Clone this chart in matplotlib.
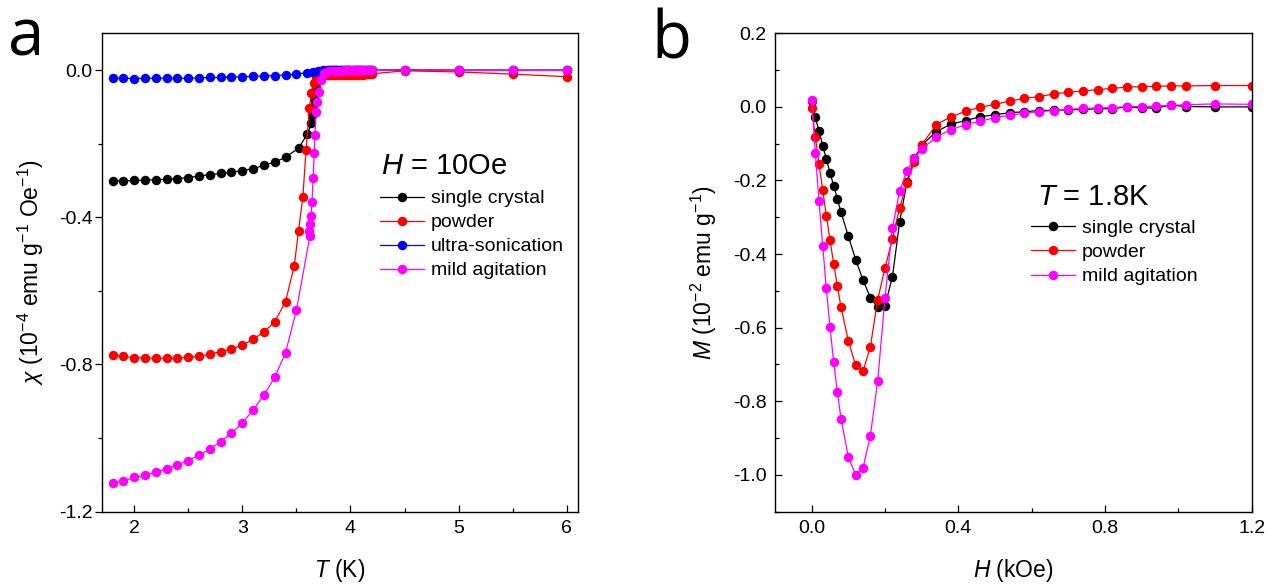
import matplotlib
matplotlib.use("Agg")
import matplotlib.pyplot as plt
from matplotlib.ticker import FormatStrFormatter, MultipleLocator
from matplotlib.lines import Line2D

plt.rcParams['font.family'] = ['Liberation Sans', 'DejaVu Sans']
plt.rcParams['mathtext.fontset'] = 'custom'
plt.rcParams['mathtext.rm'] = 'Liberation Sans'
plt.rcParams['mathtext.it'] = 'Liberation Sans:italic'
plt.rcParams['mathtext.bf'] = 'Liberation Sans:bold'
plt.rcParams['axes.unicode_minus'] = False

# ---------------- Panel a data: chi vs T (H = 10 Oe) ----------------
T_single = [1.8, 1.9, 2.0, 2.1, 2.2, 2.3, 2.4, 2.5, 2.6, 2.7, 2.8, 2.9, 3.0, 3.1, 3.2, 3.3, 3.4, 3.52,
            3.6, 3.64, 3.648, 3.655, 3.67, 3.68, 3.70, 3.72, 3.75, 3.78,
            3.80, 3.82, 3.84, 3.86, 3.88, 3.90, 3.92, 3.94, 3.96, 3.98, 4.00, 4.02, 4.04, 4.06, 4.08,
            4.10, 4.12, 4.14, 4.16, 4.18, 4.20, 4.5, 5.0, 5.5, 6.0]
chi_single = [-0.302, -0.301, -0.300, -0.299, -0.298, -0.297, -0.295, -0.292, -0.288, -0.284, -0.281,
              -0.278, -0.273, -0.268, -0.259, -0.250, -0.237, -0.212,
              -0.175, -0.145, -0.122, -0.100, -0.082, -0.045, -0.020, -0.008, -0.004, -0.002,
              -0.001, -0.001, -0.001, -0.001, -0.001, -0.001, -0.001, -0.001, -0.001, -0.001, -0.001,
              -0.001, -0.001, -0.001, -0.001, -0.001, -0.001, -0.001, -0.001, -0.001, -0.001,
              0.000, -0.001, -0.001, -0.001]

T_powder = [1.8, 1.9, 2.0, 2.1, 2.2, 2.3, 2.4, 2.5, 2.6, 2.7, 2.8, 2.9, 3.0, 3.1, 3.2, 3.3, 3.4,
            3.48, 3.52, 3.56, 3.59, 3.62, 3.64, 3.66, 3.68, 3.70, 3.72, 3.75, 3.78,
            3.80, 3.82, 3.84, 3.86, 3.88, 3.90, 3.92, 3.94, 3.96, 3.98, 4.00, 4.02, 4.04, 4.06, 4.08,
            4.10, 4.12, 4.14, 4.16, 4.18, 4.20, 4.5, 5.0, 5.5, 6.0]
chi_powder = [-0.775, -0.778, -0.782, -0.782, -0.783, -0.783, -0.783, -0.780, -0.777, -0.772, -0.765,
              -0.758, -0.748, -0.731, -0.712, -0.684, -0.629,
              -0.533, -0.437, -0.344, -0.217, -0.103, -0.061, -0.035, -0.020, -0.015, -0.014, -0.014, -0.014,
              -0.014, -0.014, -0.014, -0.014, -0.014, -0.014, -0.014, -0.014, -0.014, -0.013, -0.013,
              -0.013, -0.013, -0.013, -0.012, -0.012, -0.012, -0.011, -0.011, -0.011, -0.010,
              -0.002, -0.005, -0.011, -0.018]

T_sonic = [1.8, 1.9, 2.0, 2.1, 2.2, 2.3, 2.4, 2.5, 2.6, 2.7, 2.8, 2.9, 3.0, 3.1, 3.2, 3.3, 3.4,
           3.5, 3.6, 3.65, 3.7, 3.75, 3.78,
           3.80, 3.82, 3.84, 3.86, 3.88, 3.90, 3.92, 3.94, 3.96, 3.98, 4.00, 4.02, 4.04, 4.06, 4.08,
           4.10, 4.12, 4.14, 4.16, 4.18, 4.20, 4.5, 5.0, 5.5, 6.0]
chi_sonic = [-0.022, -0.022, -0.023, -0.022, -0.022, -0.022, -0.022, -0.022, -0.021, -0.020, -0.020,
             -0.019, -0.018, -0.017, -0.016, -0.015, -0.013,
             -0.011, -0.007, -0.005, -0.002, 0.000, 0.000,
             0.000, 0.000, 0.000, 0.000, 0.000, 0.000, 0.000, 0.000, 0.000, 0.000, 0.000, 0.000,
             0.000, 0.000, 0.000, 0.000, 0.000, 0.000, 0.000, 0.000, 0.000, 0.000, 0.000, 0.000, 0.000]

T_mild = [1.8, 1.9, 2.0, 2.1, 2.2, 2.3, 2.4, 2.5, 2.6, 2.7, 2.8, 2.9, 3.0, 3.1, 3.2, 3.3, 3.4, 3.5,
          3.626, 3.62, 3.63, 3.635, 3.645, 3.655, 3.665, 3.67, 3.685, 3.695, 3.71, 3.73, 3.76, 3.78,
          3.80, 3.82, 3.84, 3.86, 3.88, 3.90, 3.92, 3.94, 3.96, 3.98, 4.00, 4.02, 4.04, 4.06, 4.08,
          4.10, 4.12, 4.14, 4.16, 4.18, 4.20, 4.5, 5.0, 5.5, 6.0]
chi_mild = [-1.122, -1.117, -1.107, -1.101, -1.093, -1.083, -1.073, -1.061, -1.046, -1.030, -1.010,
            -0.986, -0.959, -0.924, -0.883, -0.835, -0.768, -0.653,
            -0.450, -0.437, -0.418, -0.397, -0.358, -0.294, -0.224, -0.177, -0.113, -0.086, -0.059,
            -0.027, -0.009, -0.004,
            -0.002, -0.002, -0.002, -0.002, -0.002, -0.002, -0.002, -0.001, -0.001, -0.001, -0.001,
            -0.001, -0.001, -0.001, -0.001, -0.001, -0.001, -0.001, -0.001, -0.001, -0.001,
            0.000, -0.001, -0.001, -0.001]

# ---------------- Panel b data: M vs H (T = 1.8 K) ----------------
H_field = [0.00, 0.01, 0.02, 0.03, 0.04, 0.05, 0.06, 0.07, 0.08, 0.10, 0.12, 0.14, 0.16, 0.18, 0.20,
           0.22, 0.24, 0.26, 0.28, 0.30, 0.34, 0.38, 0.42, 0.46, 0.50, 0.54, 0.58, 0.62, 0.66, 0.70,
           0.74, 0.78, 0.82, 0.86, 0.90, 0.94, 0.98, 1.02, 1.10, 1.20]
M_single = [0.015, -0.028, -0.066, -0.105, -0.142, -0.179, -0.214, -0.250, -0.286, -0.352, -0.415,
            -0.471, -0.518, -0.545, -0.540, -0.463, -0.312, -0.203, -0.140, -0.104, -0.067, -0.047,
            -0.037, -0.027, -0.021, -0.016, -0.013, -0.010, -0.009, -0.008, -0.007, -0.005, -0.005,
            0.000, -0.003, -0.003, 0.005, 0.001, 0.000, 0.000]
M_powder = [-0.003, -0.081, -0.156, -0.225, -0.296, -0.362, -0.426, -0.487, -0.544, -0.636, -0.702,
            -0.718, -0.652, -0.524, -0.438, -0.359, -0.274, -0.206, -0.150, -0.103, -0.048, -0.027,
            -0.012, -0.001, 0.007, 0.016, 0.023, 0.028, 0.035, 0.040, 0.043, 0.047, 0.050, 0.054,
            0.055, 0.056, 0.057, 0.057, 0.058, 0.058]
M_mild = [0.019, -0.125, -0.257, -0.377, -0.493, -0.599, -0.693, -0.776, -0.847, -0.952, -1.000,
          -0.981, -0.894, -0.745, -0.518, -0.330, -0.228, -0.173, -0.138, -0.115, -0.082, -0.062,
          -0.048, -0.039, -0.029, -0.023, -0.017, -0.013, -0.010, -0.007, -0.004, -0.003, -0.002,
          0.001, 0.001, 0.002, 0.004, 0.006, 0.008, 0.007]

labels_a = ["single crystal", "powder", "ultra-sonication", "mild agitation"]
labels_b = ["single crystal", "powder", "mild agitation"]
colors_a = ["#000000", "#ff0000", "#0000ff", "#ff00ff"]
colors_b = ["#000000", "#ff0000", "#ff00ff"]

fig = plt.figure(figsize=(12.84, 5.86), dpi=100)
ax_a = fig.add_axes([0.0792, 0.1268, 0.3706, 0.8164])
ax_b = fig.add_axes([0.6036, 0.1268, 0.3712, 0.8164])

ms = 5.8
lw = 0.9

series_a = [(T_single, chi_single), (T_powder, chi_powder), (T_sonic, chi_sonic), (T_mild, chi_mild)]
for (x, y), c in zip(series_a, colors_a):
    ax_a.plot(x, y, '-o', color=c, ms=ms, lw=lw, mec=c, mfc=c)

series_b = [(H_field, M_single), (H_field, M_powder), (H_field, M_mild)]
for (x, y), c in zip(series_b, colors_b):
    ax_b.plot(x, y, '-o', color=c, ms=ms, lw=lw, mec=c, mfc=c)

# axes a
ax_a.set_xlim(1.7, 6.1)
ax_a.set_ylim(-1.2, 0.1)
ax_a.set_xticks([2, 3, 4, 5, 6])
ax_a.set_yticks([-1.2, -0.8, -0.4, 0.0])
ax_a.xaxis.set_minor_locator(MultipleLocator(0.5))
ax_a.yaxis.set_minor_locator(MultipleLocator(0.2))
ax_a.yaxis.set_major_formatter(FormatStrFormatter('%.1f'))

# axes b
ax_b.set_xlim(-0.1, 1.2)
ax_b.set_ylim(-1.1, 0.2)
ax_b.set_xticks([0.0, 0.4, 0.8, 1.2])
ax_b.set_yticks([-1.0, -0.8, -0.6, -0.4, -0.2, 0.0, 0.2])
ax_b.xaxis.set_minor_locator(MultipleLocator(0.2))
ax_b.yaxis.set_minor_locator(MultipleLocator(0.1))
ax_b.xaxis.set_major_formatter(FormatStrFormatter('%.1f'))
ax_b.yaxis.set_major_formatter(FormatStrFormatter('%.1f'))

for ax in (ax_a, ax_b):
    for s in ax.spines.values():
        s.set_linewidth(1.0)
    ax.tick_params(axis='both', which='major', labelsize=14, length=5, width=0.9)
    ax.tick_params(axis='both', which='minor', length=2.6, width=0.9)
    ax.tick_params(axis='x', which='both', direction='in', pad=6)
    ax.tick_params(top=False, right=False)

ax_a.tick_params(axis='y', which='both', direction='out', pad=1.5)
ax_b.tick_params(axis='y', which='both', direction='in', pad=6)

lab_fs = 16.5
ax_a.set_xlabel(r'$T$ (K)', fontsize=lab_fs)
ax_a.set_ylabel(r'$\chi$ (10$^{-4}$ emu g$^{-1}$ Oe$^{-1}$)', fontsize=lab_fs)
ax_b.set_xlabel(r'$H$ (kOe)', fontsize=lab_fs)
ax_b.set_ylabel(r'$M$ (10$^{-2}$ emu g$^{-1}$)', fontsize=lab_fs)
ax_a.xaxis.set_label_coords(0.5, -0.094)
ax_b.xaxis.set_label_coords(0.5, -0.094)
ax_a.yaxis.set_label_coords(-0.118, 0.5)
ax_b.yaxis.set_label_coords(-0.118, 0.5)

# legends
h_a = [Line2D([], [], color=c, marker='o', ms=ms, lw=lw) for c in colors_a]
ax_a.legend(h_a, labels_a, loc='upper left', bbox_to_anchor=(0.585, 0.673), frameon=False,
            fontsize=14, handlelength=2.25, handletextpad=0.35, labelspacing=0.33,
            borderpad=0, borderaxespad=0)
ax_a.text(0.586, 0.706, r'$H$ = 10Oe', transform=ax_a.transAxes, fontsize=21, va='baseline', ha='left')

h_b = [Line2D([], [], color=c, marker='o', ms=ms, lw=lw) for c in colors_b]
ax_b.legend(h_b, labels_b, loc='upper left', bbox_to_anchor=(0.537, 0.611), frameon=False,
            fontsize=14, handlelength=2.28, handletextpad=0.32, labelspacing=0.34,
            borderpad=0, borderaxespad=0)
ax_b.text(0.549, 0.641, r'$T$ = 1.8K', transform=ax_b.transAxes, fontsize=21, va='baseline', ha='left')

# panel letters
fig.text(0.006, 0.906, 'a', fontsize=47, family=['Open Sans', 'DejaVu Sans'], va='baseline', ha='left')
fig.text(0.507, 0.9005, 'b', fontsize=47, family=['Open Sans', 'DejaVu Sans'], va='baseline', ha='left')

fig.savefig('out.png', dpi=100)
